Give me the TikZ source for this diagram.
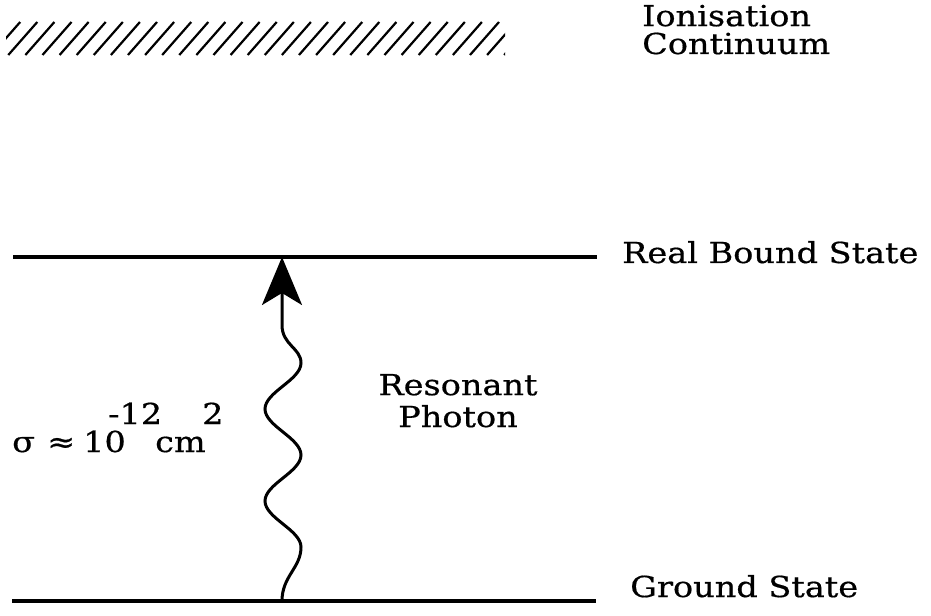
\documentclass[tikz,border=0pt]{standalone}
\usepackage{fontspec}
\setmainfont{DejaVu Serif}[FakeStretch=1.16, FakeBold=0.6]
\usetikzlibrary{arrows.meta}

\tikzset{
  level/.style={line width=3.2bp},
  hatchline/.style={line width=2.2bp},
  photon/.style={line width=3bp, -{Stealth[length=48bp,width=40bp,inset=12bp]}},
  label/.style={inner sep=0pt, font=\fontsize{29}{28}\selectfont},
}

\begin{document}
\begin{tikzpicture}[x=1bp, y=-1bp]
  \useasboundingbox (0,0) rectangle (931,616);

  % ionisation continuum: hatched band
  \begin{scope}
    \clip (6,22) rectangle (505,56);
    \foreach \k in {-1,...,30}
      \draw[hatchline] ({8.3+17.1*\k},55) -- ({37.3+17.1*\k},22);
  \end{scope}
  \node[label, anchor=base west, align=left] (cont) at (642,54)
    {Ionisation\\Continuum};

  % energy levels
  \coordinate (bl) at (13,257);
  \coordinate (br) at (597,257);
  \coordinate (gl) at (12,601);
  \coordinate (gr) at (596,601);
  \draw[level] (bl) -- (br);
  \draw[level] (gl) -- (gr);
  \node[label, anchor=base west] (bound) at (622,263) {Real Bound State};
  \node[label, anchor=base west] (ground) at (630,597) {Ground State};

  % resonant photon
  \coordinate (g) at (282,601);
  \coordinate (e) at (282,257);
  \draw[photon] (g)
    .. controls (282,576) and (301,568) .. (301,547)
    .. controls (301,530) and (265,518) .. (265,501)
    .. controls (265,484) and (301,472) .. (301,455)
    .. controls (301,438) and (265,426) .. (265,409)
    .. controls (265,392) and (301,380) .. (301,363)
    .. controls (301,348) and (282,345) .. (282,325)
    -- (e);
  \node[label, align=center, anchor=base] (res) at (458,427)
    {Resonant\\[4bp]Photon};

  % cross section
  \node[label, anchor=base west] (sigma) at (12,452)
    {\rlap{σ}\kern35bp\rlap{≈}\kern36bp\rlap{10}\kern25bp%
     \rlap{\raisebox{28bp}{-12}}\kern47bp\rlap{cm}\kern47bp\raisebox{28bp}{2}};
\end{tikzpicture}
\end{document}
